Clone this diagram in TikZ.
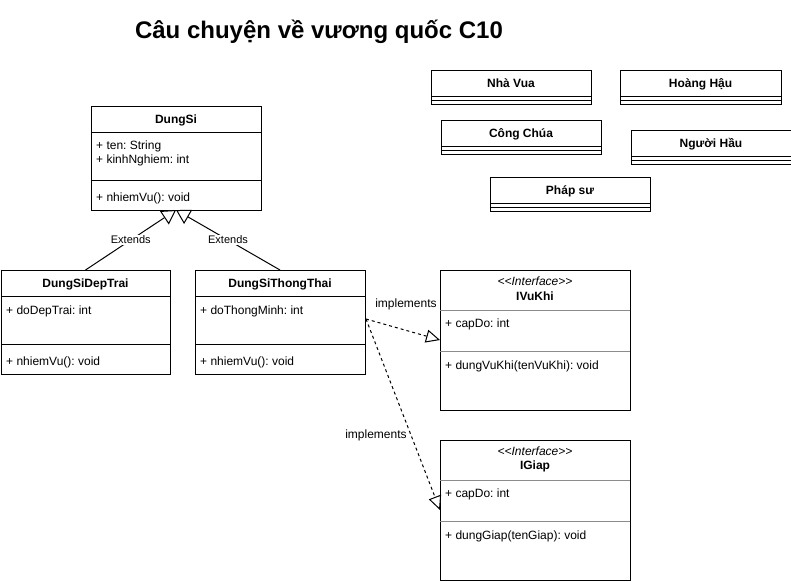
\documentclass[tikz,border=0pt]{standalone}
\usepackage{fontspec}
\setmainfont{Liberation Sans}
\usetikzlibrary{arrows.meta}
\frenchspacing
\begin{document}
\begin{tikzpicture}[x=1pt,y=-1pt,
  box/.style={draw=black, line width=1pt, fill=white, inner sep=0pt, outer sep=0pt},
  sep/.style={draw=black, line width=1pt},
  isep/.style={draw=black!45, line width=1pt},
  cname/.style={font=\fontsize{12}{14}\selectfont\bfseries, inner sep=0pt, text height=8.6pt, text depth=0pt},
  member/.style={font=\fontsize{12}{14}\selectfont, anchor=west, inner sep=0pt, text height=8.6pt, text depth=0pt},
  stereo/.style={font=\fontsize{12}{14}\selectfont\itshape, inner sep=0pt, text height=8.6pt, text depth=0pt},
  elabel/.style={font=\fontsize{11}{13}\selectfont, fill=white, inner sep=1pt, text height=7.9pt, text depth=0pt},
  ilabel/.style={font=\fontsize{12}{14}\selectfont, inner sep=0pt, text height=8.6pt, text depth=0pt},
  title/.style={font=\fontsize{24}{28}\selectfont\bfseries, inner sep=0pt, text height=17.2pt, text depth=0pt},
  extends/.style={line width=1pt, -{Triangle[open, length=14pt, width=16pt, fill=white]}},
  impl/.style={line width=1pt, dash pattern=on 3pt off 3pt, -{Triangle[open, length=14pt, width=13pt, fill=white]}},
]
\useasboundingbox (0,0) rectangle (791,581);

% title
\node[title] (ttl) at (319,30) {Câu chuyện về vương quốc C10};

% DungSi
\node[box, minimum width=170pt, minimum height=104pt] (dungsi) at (176,158) {};
\draw[sep] (dungsi.west |- 0,132) -- (dungsi.east |- 0,132);
\draw[sep] (dungsi.west |- 0,180) -- (dungsi.east |- 0,180);
\node[cname] (dungsiN) at (176,119) {DungSi};
\node[member] (dungsiA1) at (96,145) {+ ten: String};
\node[member] (dungsiA2) at (96,159) {+ kinhNghiem: int};
\node[member] (dungsiM1) at (96,197) {+ nhiemVu(): void};

% DungSiDepTrai
\node[box, minimum width=169pt, minimum height=104pt] (dsdt) at (85.5,322) {};
\draw[sep] (dsdt.west |- 0,296) -- (dsdt.east |- 0,296);
\draw[sep] (dsdt.west |- 0,344) -- (dsdt.east |- 0,344);
\node[cname] (dsdtN) at (85.5,283) {DungSiDepTrai};
\node[member] (dsdtA1) at (6,310) {+ doDepTrai: int};
\node[member] (dsdtM1) at (6,361) {+ nhiemVu(): void};

% DungSiThongThai
\node[box, minimum width=170pt, minimum height=104pt] (dstt) at (280,322) {};
\draw[sep] (dstt.west |- 0,296) -- (dstt.east |- 0,296);
\draw[sep] (dstt.west |- 0,344) -- (dstt.east |- 0,344);
\node[cname] (dsttN) at (280,283) {DungSiThongThai};
\node[member] (dsttA1) at (200,310) {+ doThongMinh: int};
\node[member] (dsttM1) at (200,361) {+ nhiemVu(): void};

% IVuKhi
\node[box, minimum width=190pt, minimum height=140pt] (ivukhi) at (535,340) {};
\draw[isep] (ivukhi.west |- 0,310) -- (ivukhi.east |- 0,310);
\draw[isep] (ivukhi.west |- 0,351) -- (ivukhi.east |- 0,351);
\node[stereo] (ivukhiS) at (535,281) {<{}<Interface>{}>};
\node[cname] (ivukhiN) at (535,296) {IVuKhi};
\node[member] (ivukhiA1) at (445,323) {+ capDo: int};
\node[member] (ivukhiM1) at (445,365) {+ dungVuKhi(tenVuKhi): void};

% IGiap
\node[box, minimum width=190pt, minimum height=140pt] (igiap) at (535,510) {};
\draw[isep] (igiap.west |- 0,480) -- (igiap.east |- 0,480);
\draw[isep] (igiap.west |- 0,521) -- (igiap.east |- 0,521);
\node[stereo] (igiapS) at (535,451) {<{}<Interface>{}>};
\node[cname] (igiapN) at (535,465) {IGiap};
\node[member] (igiapA1) at (445,493) {+ capDo: int};
\node[member] (igiapM1) at (445,535) {+ dungGiap(tenGiap): void};

% small classes
\node[box, minimum width=160pt, minimum height=34pt] (nhavua) at (511,87) {};
\draw[sep] (nhavua.west |- 0,96) -- (nhavua.east |- 0,96);
\draw[sep] (nhavua.west |- 0,100) -- (nhavua.east |- 0,100);
\node[cname] (nhavuaN) at (511,83) {Nhà Vua};

\node[box, minimum width=161pt, minimum height=34pt] (hoanghau) at (700.5,87) {};
\draw[sep] (hoanghau.west |- 0,96) -- (hoanghau.east |- 0,96);
\draw[sep] (hoanghau.west |- 0,100) -- (hoanghau.east |- 0,100);
\node[cname] (hoanghauN) at (700.5,83) {Hoàng Hậu};

\node[box, minimum width=160pt, minimum height=34pt] (congchua) at (521,137) {};
\draw[sep] (congchua.west |- 0,146) -- (congchua.east |- 0,146);
\draw[sep] (congchua.west |- 0,150) -- (congchua.east |- 0,150);
\node[cname] (congchuaN) at (521,133) {Công Chúa};

\node[box, minimum width=160pt, minimum height=34pt] (nguoihau) at (711,147) {};
\draw[sep] (nguoihau.west |- 0,156) -- (nguoihau.east |- 0,156);
\draw[sep] (nguoihau.west |- 0,160) -- (nguoihau.east |- 0,160);
\node[cname] (nguoihauN) at (711,143) {Người Hầu};

\node[box, minimum width=160pt, minimum height=34pt] (phapsu) at (570,194) {};
\draw[sep] (phapsu.west |- 0,203) -- (phapsu.east |- 0,203);
\draw[sep] (phapsu.west |- 0,207) -- (phapsu.east |- 0,207);
\node[cname] (phapsuN) at (570,190) {Pháp sư};

% connectors
\draw[extends] (dsdt.north) -- node[elabel] (ext1) {Extends} (dungsi.south);
\draw[extends] (dstt.north) -- node[elabel] (ext2) {Extends} (dungsi.south);

\coordinate (impstart) at (366,319);
\draw[impl] (impstart) -- (ivukhi.west);
\draw[impl] (impstart) -- (igiap.west);
\node[ilabel] (impl1) at (406,303) {implements};
\node[ilabel] (impl2) at (376,434) {implements};
\end{tikzpicture}
\end{document}
